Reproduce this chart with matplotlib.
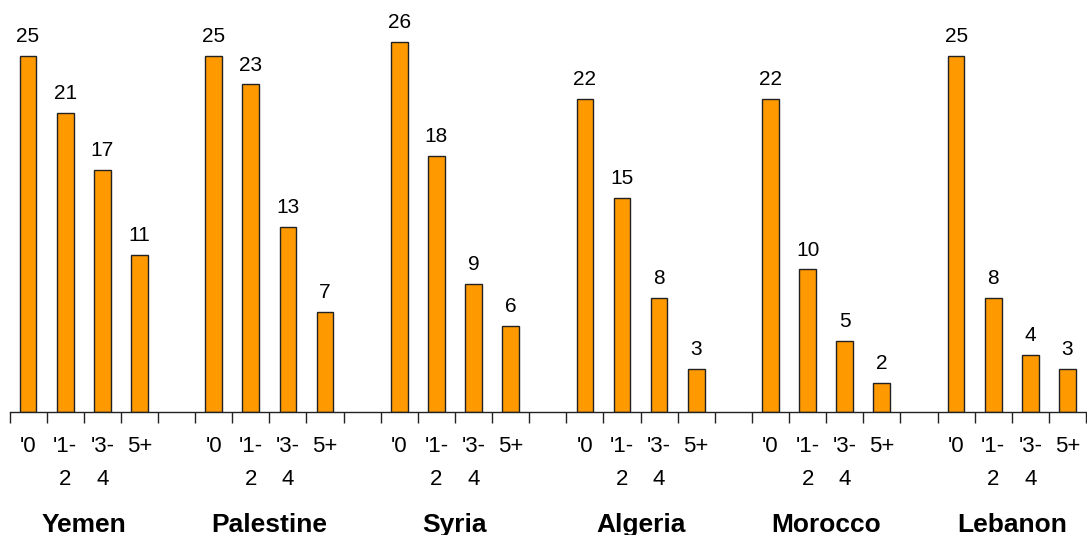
import matplotlib
matplotlib.use("Agg")
import matplotlib.pyplot as plt
import matplotlib.transforms as mtransforms
import numpy as np

countries = ["Yemen", "Palestine", "Syria", "Algeria", "Morocco", "Lebanon"]
age_groups = ["'0", "'1-\n2", "'3-\n4", "5+"]
yemen = [25, 21, 17, 11]
palestine = [25, 23, 13, 7]
syria = [26, 18, 9, 6]
algeria = [22, 15, 8, 3]
morocco = [22, 10, 5, 2]
lebanon = [25, 8, 4, 3]
series = [yemen, palestine, syria, algeria, morocco, lebanon]

plt.rcParams["font.family"] = ["Liberation Sans", "DejaVu Sans"]

W, H = 1087, 535
fig = plt.figure(figsize=(W / 100, H / 100), dpi=100)
ax = fig.add_axes([9.5 / W, 1 - 411.7 / H, (1086 - 9.5) / W, 411.7 / H])

slot = len(age_groups) + 1  # four bars plus one empty slot per country
n_slots = slot * len(countries) - 1

positions = []
labels = []
for g, vals in enumerate(series):
    xs = np.arange(len(vals)) + g * slot
    ax.bar(xs, vals, width=0.45, color="#FF9900", edgecolor="#222222",
           linewidth=1.0, zorder=2)
    for x, v in zip(xs, vals):
        ax.annotate(f"{v}", (x, v), xytext=(0, 10), textcoords="offset points",
                    ha="center", va="baseline", fontsize=15, color="black",
                    annotation_clip=False)
    positions.extend(xs)
    labels.extend(age_groups)

ax.set_xlim(-0.5, n_slots - 0.5)
ax.set_ylim(0, 411.7 / 14.23)

for s in ("left", "right", "top"):
    ax.spines[s].set_visible(False)
ax.spines["bottom"].set_color("#222222")
ax.spines["bottom"].set_linewidth(1.0)
ax.set_yticks([])

ax.set_xticks(positions)
ax.set_xticklabels(labels, fontsize=16, linespacing=1.72)
ax.tick_params(axis="x", which="major", length=0, pad=17.5)
ax.set_xticks(np.arange(-0.5, n_slots), minor=True)
ax.tick_params(axis="x", which="minor", length=8, width=1.0, color="#222222",
               direction="out")

trans = mtransforms.blended_transform_factory(ax.transData, fig.transFigure)
for g, name in enumerate(countries):
    cx = g * slot + (len(age_groups) - 1) / 2
    ax.text(cx, 1 - 532 / H, name, transform=trans, ha="center",
            va="baseline", fontsize=19, fontweight="bold")

fig.savefig("out.png", dpi=100)
